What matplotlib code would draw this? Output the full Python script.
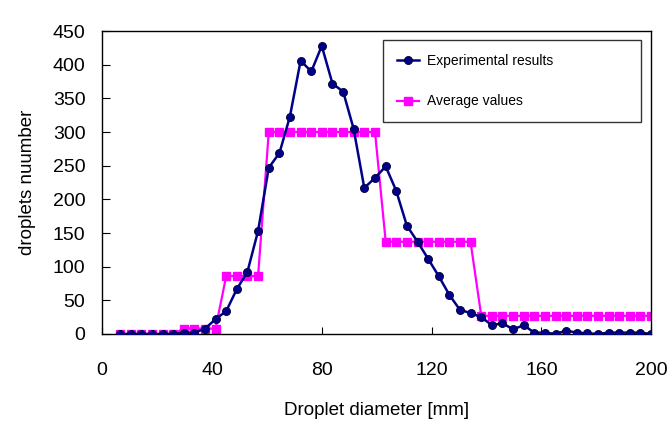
import matplotlib
matplotlib.use("Agg")
import matplotlib.pyplot as plt

# droplet diameter classes [mm]
diameter = [6.5, 10.4, 14.2, 18.1, 22.0, 25.9, 29.7, 33.6, 37.5, 41.3,
            45.2, 49.1, 52.9, 56.8, 60.7, 64.6, 68.4, 72.3, 76.2, 80.0,
            83.9, 87.8, 91.6, 95.5, 99.4, 103.3, 107.1, 111.0, 114.9, 118.7,
            122.6, 126.5, 130.3, 134.2, 138.1, 142.0, 145.8, 149.7, 153.6, 157.4,
            161.3, 165.2, 169.0, 172.9, 176.8, 180.7, 184.5, 188.4, 192.3, 196.1,
            200.0]

# measured droplet counts
experimental = [0, 0, 0, 0, 0, 0, 2, 2, 8, 22,
                34, 67, 92, 153, 247, 269, 323, 406, 390, 428,
                372, 360, 305, 217, 232, 249, 213, 161, 137, 112,
                86, 58, 36, 31, 25, 13, 16, 7, 13, 2,
                2, 0, 5, 2, 1, 0, 2, 2, 2, 2,
                0]

# averaged counts per range
average = [0, 0, 0, 0, 0, 0, 8, 8, 8, 8,
           86, 86, 86, 86, 300, 300, 300, 300, 300, 300,
           300, 300, 300, 300, 300, 137, 137, 137, 137, 137,
           137, 137, 137, 137, 27, 27, 27, 27, 27, 27,
           27, 27, 27, 27, 27, 27, 27, 27, 27, 27,
           27]

plt.rcParams['font.family'] = ['Liberation Sans Narrow', 'Liberation Sans', 'DejaVu Sans']

fig = plt.figure(figsize=(6.72, 4.26), dpi=100)
ax = fig.add_axes([0.152, 0.216, 0.817, 0.711])

ax.plot(diameter, experimental, color='#00008B', lw=1.8, marker='o', ms=5.8,
        mfc='#00008B', mec='#000033', mew=0.6, label='Experimental results', zorder=3)
ax.plot(diameter, average, color='#FF00FF', lw=1.6, marker='s', ms=5.6,
        mfc='#FF00FF', mec='#FF00FF', label='Average values', zorder=2)

ax.set_xlim(0, 200)
ax.set_ylim(0, 450)
ax.set_xticks([0, 40, 80, 120, 160, 200])
ax.set_yticks(range(0, 451, 50))
ax.tick_params(axis='x', direction='in', length=5, pad=20, labelsize=14)
ax.tick_params(axis='y', direction='in', length=6, pad=12, labelsize=14)
for s in ax.spines.values():
    s.set_linewidth(1.0)

ax.set_xlabel("Droplet diameter [mm]", fontsize=13.5, labelpad=17)
ax.set_ylabel("droplets nuumber", fontsize=13.5, labelpad=12)

leg = ax.legend(loc='upper left', bbox_to_anchor=(0.511, 0.970, 0.471, 0.0),
                mode='expand', borderaxespad=0, fontsize=10, handlelength=1.6,
                handletextpad=0.6, labelspacing=1.9, borderpad=1.0,
                fancybox=False, frameon=True)
leg.get_frame().set_edgecolor('black')
leg.get_frame().set_linewidth(1.0)

plt.savefig("out.png", dpi=100)
